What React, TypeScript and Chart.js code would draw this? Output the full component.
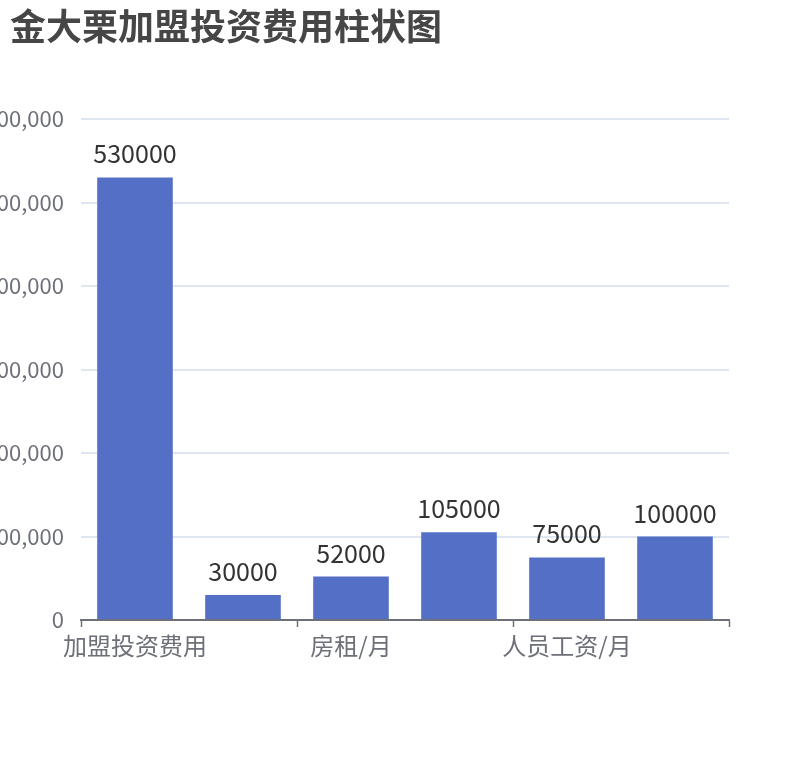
import React, { useEffect, useRef } from "react";
import { Chart, registerables } from "chart.js";

Chart.register(...registerables);

const TITLE = "金大栗加盟投资费用柱状图";
const categories = ["加盟投资费用", "", "房租/月", "", "人员工资/月", ""];
const costs = [530000, 30000, 52000, 105000, 75000, 100000];
const yTicks = [0, 100000, 200000, 300000, 400000, 500000, 600000];

const FONT = '"Noto Sans CJK SC", "Noto Sans", sans-serif';

const titlePlugin = {
  id: "titleText",
  afterDraw(chart: any) {
    const ctx = chart.ctx;
    ctx.save();
    ctx.font = `bold 36px ${FONT}`;
    ctx.fillStyle = "#464646";
    ctx.textAlign = "left";
    ctx.textBaseline = "middle";
    ctx.fillText(TITLE, 10, 26);
    ctx.restore();
  },
};

const valueLabels = {
  id: "valueLabels",
  afterDatasetsDraw(chart: any) {
    const ctx = chart.ctx;
    const meta = chart.getDatasetMeta(0);
    const data = chart.data.datasets[0].data;
    ctx.save();
    ctx.font = `25px ${FONT}`;
    ctx.fillStyle = "#333333";
    ctx.textAlign = "center";
    ctx.textBaseline = "alphabetic";
    meta.data.forEach((bar: any, i: number) => {
      ctx.fillText(String(data[i]), bar.x, bar.y - 14);
    });
    ctx.restore();
  },
};

export default function App() {
  const ref = useRef<HTMLCanvasElement>(null);
  useEffect(() => {
    const chart = new Chart(ref.current!, {
      type: "bar",
      data: {
        labels: categories,
        datasets: [
          {
            data: costs,
            backgroundColor: "#5470C6",
            categoryPercentage: 1,
            barPercentage: 0.7,
          },
        ],
      },
      options: {
        animation: false,
        responsive: false,
        devicePixelRatio: 1,
        layout: { padding: { top: 119, right: 81, bottom: 0, left: 0 } },
        plugins: {
          legend: { display: false },
          title: { display: false },
          tooltip: { enabled: false },
        },
        scales: {
          x: {
            offset: true,
            afterFit(scale: any) {
              scale.height = 140;
            },
            grid: {
              offset: true,
              drawOnChartArea: false,
              drawTicks: true,
              tickLength: 7,
              tickWidth: 1.5,
              tickColor: (ctx: any) =>
                ctx.index === undefined || ctx.index % 2 === 0 ? "#6E7079" : "rgba(0,0,0,0)",
            },
            border: { display: true, color: "#6E7079", width: 2 },
            ticks: {
              autoSkip: false,
              maxRotation: 0,
              minRotation: 0,
              padding: 4,
              color: "#6E7079",
              font: { family: FONT, size: 24 },
              callback: (_v: any, i: number) => (i % 2 === 0 ? categories[i] : ""),
            },
          },
          y: {
            min: 0,
            max: 600000,
            afterFit(scale: any) {
              scale.width = 81;
            },
            afterBuildTicks(scale: any) {
              scale.ticks = yTicks.map((v) => ({ value: v }));
            },
            grid: { color: "#E0E6F1", drawTicks: false, lineWidth: 2 },
            border: { display: false },
            ticks: {
              padding: 17,
              color: "#6E7079",
              font: { family: FONT, size: 22 },
              callback: (v: any) => Number(v).toLocaleString("en-US"),
            },
          },
        },
      },
      plugins: [titlePlugin, valueLabels],
    });
    return () => chart.destroy();
  }, []);
  return (
    <div style={{ position: "absolute", left: 0, top: 0, width: 810, height: 760 }}>
      <canvas ref={ref} width={810} height={760} />
    </div>
  );
}
